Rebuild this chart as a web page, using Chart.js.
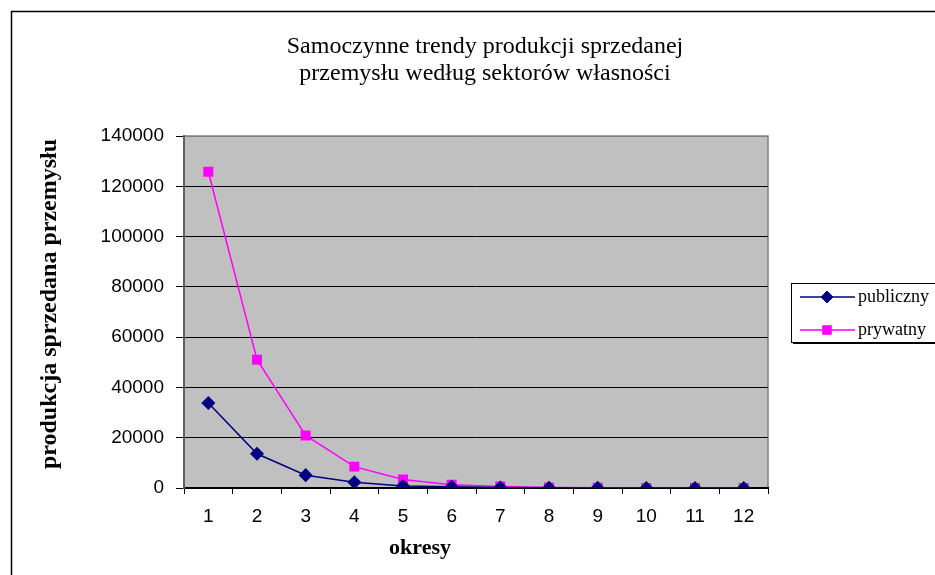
<!DOCTYPE html>
<html>
<head>
<meta charset="utf-8">
<script src="https://cdn.jsdelivr.net/npm/chart.js@4.4.1/dist/chart.umd.min.js"></script>
<style>
html,body{margin:0;padding:0;background:#fff;}
#wrap{width:935px;height:575px;position:relative;}
</style>
</head>
<body>
<div id="wrap"><canvas id="c" width="935" height="575"></canvas></div>
<script>
const titleLines = ['Samoczynne trendy produkcji sprzedanej', 'przemysłu według sektorów własności'];
const yAxisTitle = 'produkcja sprzedana przemysłu';
const xAxisTitle = 'okresy';
const periods = ['1','2','3','4','5','6','7','8','9','10','11','12'];
const publiczny = [33800, 13600, 5100, 2300, 800, 500, 200, 80, 40, 20, 10, 5];
const prywatny = [125800, 51000, 20900, 8500, 3400, 1300, 550, 200, 90, 40, 20, 10];
const seriesNames = ['publiczny', 'prywatny'];
const yTicks = {min: 0, max: 140000, step: 20000};

const bgPlugin = {
  id: 'bg',
  beforeDraw(chart) {
    const {ctx, chartArea: a} = chart;
    ctx.save();
    ctx.fillStyle = '#fff';
    ctx.fillRect(0, 0, chart.width, chart.height);
    ctx.fillStyle = '#C0C0C0';
    ctx.fillRect(a.left, a.top, a.right - a.left, a.bottom - a.top);
    ctx.strokeStyle = '#808080';
    ctx.lineWidth = 1.5;
    ctx.strokeRect(a.left, a.top, a.right - a.left, a.bottom - a.top);
    ctx.strokeStyle = '#000';
    ctx.lineWidth = 1.5;
    ctx.strokeRect(11.5, 11.5, chart.width, chart.height);
    ctx.restore();
  },
  afterDraw(chart) {
    const {ctx} = chart;
    ctx.save();
    // chart title
    ctx.fillStyle = '#000';
    ctx.textAlign = 'center';
    ctx.textBaseline = 'middle';
    ctx.font = '24px "Liberation Serif", serif';
    titleLines.forEach((t, i) => ctx.fillText(t, 485, 47 + i * 27));
    // x axis title
    ctx.font = 'bold 22px "Liberation Serif", serif';
    ctx.fillText(xAxisTitle, 420, 548);
    // y axis title
    ctx.save();
    ctx.translate(50, 304);
    ctx.rotate(-Math.PI / 2);
    ctx.font = 'bold 24px "Liberation Serif", serif';
    ctx.fillText(yAxisTitle, 0, 0);
    ctx.restore();
    // legend
    const x0 = 791, y0 = 283, w = 150, h = 59;
    ctx.fillStyle = '#000';
    ctx.fillRect(x0 + 2, y0 + 2, w, h);
    ctx.fillStyle = '#fff';
    ctx.fillRect(x0, y0, w, h);
    ctx.strokeStyle = '#000';
    ctx.lineWidth = 1;
    ctx.strokeRect(x0 + 0.5, y0 + 0.5, w, h);
    ctx.font = '18px "Liberation Serif", serif';
    ctx.textAlign = 'left';
    ctx.textBaseline = 'middle';
    chart.data.datasets.forEach((ds, i) => {
      const y = y0 + 14 + i * 33;
      ctx.strokeStyle = ds.borderColor;
      ctx.lineWidth = 1.5;
      ctx.beginPath();
      ctx.moveTo(800, y);
      ctx.lineTo(855, y);
      ctx.stroke();
      ctx.fillStyle = ds.pointBackgroundColor;
      ctx.strokeStyle = ds.pointBorderColor;
      ctx.lineWidth = 1;
      Chart.helpers.drawPoint(ctx, {
        pointStyle: ds.pointStyle, radius: ds.pointRadius, rotation: 0, borderWidth: 1
      }, 827, y);
      ctx.fillStyle = '#000';
      ctx.fillText(ds.label, 858, y);
    });
    ctx.restore();
  }
};

new Chart(document.getElementById('c'), {
  type: 'line',
  data: {
    labels: periods,
    datasets: [
      {
        label: seriesNames[0], data: publiczny,
        borderColor: '#000080', backgroundColor: '#000080',
        pointBackgroundColor: '#000080', pointBorderColor: '#000080',
        pointStyle: 'rectRot', pointRadius: 6, borderWidth: 1.5, tension: 0
      },
      {
        label: seriesNames[1], data: prywatny,
        borderColor: '#FF00FF', backgroundColor: '#FF00FF',
        pointBackgroundColor: '#FF00FF', pointBorderColor: '#FF00FF',
        pointStyle: 'rect', pointRadius: 6, borderWidth: 1.5, tension: 0
      }
    ]
  },
  options: {
    responsive: false,
    animation: false,
    devicePixelRatio: 1,
    layout: {padding: {top: 136, left: 0, right: 167, bottom: 0}},
    plugins: {
      legend: {display: false},
      tooltip: {enabled: false},
      title: {display: false}
    },
    scales: {
      x: {
        offset: true,
        afterFit(s) { s.height = 87; },
        grid: {offset: true, drawOnChartArea: false, drawTicks: true, tickLength: 6, color: '#000'},
        border: {color: '#000', width: 2},
        ticks: {color: '#000', padding: 11, maxRotation: 0, font: {family: '"Liberation Sans", Arial, sans-serif', size: 19}},
        title: {display: false}
      },
      y: {
        min: yTicks.min, max: yTicks.max,
        afterFit(s) { s.width = 184; },
        grid: {
          color: (c) => (c.tick && c.tick.value === yTicks.max) ? '#808080' : '#000',
          tickColor: '#000', tickLength: 8, lineWidth: 1
        },
        border: {color: '#606060', width: 2},
        ticks: {
          stepSize: yTicks.step, color: '#000', padding: 12,
          font: {family: '"Liberation Sans", Arial, sans-serif', size: 19},
          callback: (v) => String(v)
        },
        title: {display: false}
      }
    }
  },
  plugins: [bgPlugin]
});
</script>
</body>
</html>
